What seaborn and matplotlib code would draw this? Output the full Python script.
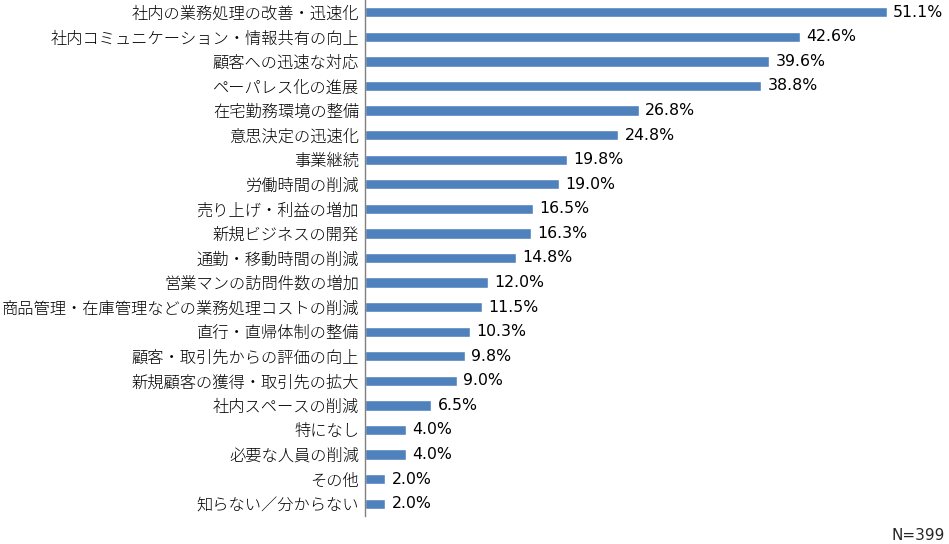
import matplotlib
matplotlib.use("Agg")
import matplotlib.pyplot as plt
import seaborn as sns
import pandas as pd

categories = [
    "社内の業務処理の改善・迅速化",
    "社内コミュニケーション・情報共有の向上",
    "顧客への迅速な対応",
    "ペーパレス化の進展",
    "在宅勤務環境の整備",
    "意思決定の迅速化",
    "事業継続",
    "労働時間の削減",
    "売り上げ・利益の増加",
    "新規ビジネスの開発",
    "通勤・移動時間の削減",
    "営業マンの訪問件数の増加",
    "商品管理・在庫管理などの業務処理コストの削減",
    "直行・直帰体制の整備",
    "顧客・取引先からの評価の向上",
    "新規顧客の獲得・取引先の拡大",
    "社内スペースの削減",
    "特になし",
    "必要な人員の削減",
    "その他",
    "知らない／分からない",
]
values = [51.1, 42.6, 39.6, 38.8, 26.8, 24.8, 19.8, 19.0, 16.5, 16.3, 14.8,
          12.0, 11.5, 10.3, 9.8, 9.0, 6.5, 4.0, 4.0, 2.0, 2.0]
note = "N=399"

sns.set_theme(style="white")
plt.rcParams['font.family'] = ['Noto Sans CJK JP', 'DejaVu Sans']

df = pd.DataFrame({"cat": categories, "val": values})

fig = plt.figure(figsize=(9.49, 5.44), dpi=100)
ax = fig.add_axes([365/949, 1 - 516/544, (926.6 - 365)/949, 516/544])
sns.barplot(data=df, y="cat", x="val", orient="h", color="#4F81BD",
            saturation=1, width=0.42, ax=ax)
ax.set_xlim(0, 55)
ax.set_ylim(len(categories) - 0.5, -0.5)
ax.set_xlabel("")
ax.set_ylabel("")
ax.set_xticks([])
for s in ["top", "right", "bottom"]:
    ax.spines[s].set_visible(False)
ax.spines["left"].set_color("#808080")
ax.spines["left"].set_linewidth(1)
ax.tick_params(axis="y", length=0, pad=4.3, labelsize=11.7, colors="#000000")
for lbl in ax.get_yticklabels():
    lbl.set_fontweight("light")
for i, v in enumerate(values):
    ax.annotate(f"{v:.1f}%", (v, i), xytext=(4.5, 0), textcoords="offset points",
                va="center", ha="left", fontsize=11.3, color="#000000",
                family="DejaVu Sans")
fig.text(945/949, 1 - 535/544, note, ha="right", va="center", fontsize=11,
         family="DejaVu Sans")
fig.savefig("out.png", dpi=100)
